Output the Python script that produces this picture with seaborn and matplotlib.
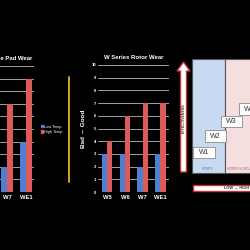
import numpy as np
import pandas as pd
import matplotlib
matplotlib.use("Agg")
import matplotlib.pyplot as plt
import seaborn as sns
from matplotlib.patches import Rectangle, Polygon

sns.set_theme(style="dark")
plt.rcParams['font.family'] = ['Liberation Sans', 'DejaVu Sans']

# ---- data ----
categories = ["W5", "W6", "W7", "WE1"]
temps = ["Low Temp", "High Temp"]
pad_low = [np.nan, np.nan, 2, 4]      # W5/W6 are off-canvas in the reference
pad_high = [np.nan, np.nan, 7, 9]
rotor_low = [3, 3, 2, 3]
rotor_high = [4, 6, 7, 7]
y_ticks = list(range(0, 11))
stages = ["W1", "W2", "W3", "W4"]
zones = ["SPORTS", "SPORTS & CIRCUIT"]

BLUE = "#4e7fd0"
RED = "#dc5a5a"
W, H = 250, 250


def long_df(low, high):
    rows = []
    for c, lo, hi in zip(categories, low, high):
        rows.append((c, temps[0], lo))
        rows.append((c, temps[1], hi))
    return pd.DataFrame(rows, columns=["cat", "temp", "val"])


def px_axes(fig, x0, x1, ytop, ybot):
    return fig.add_axes([x0 / W, (H - ybot) / H, (x1 - x0) / W, (ybot - ytop) / H])


fig = plt.figure(figsize=(2.5, 2.5), dpi=100, facecolor="black")

# overlay axes in pixel coordinates for decorations
ov = fig.add_axes([0, 0, 1, 1])
ov.set_xlim(0, W)
ov.set_ylim(H, 0)
ov.axis("off")
ov.add_patch(Rectangle((0, 0), W, H, color="black", zorder=0))


def style_bar_axes(ax, title, show_yticks):
    ax.set_facecolor("none")
    ax.set_ylim(0, 10)
    ax.set_yticks(y_ticks)
    ax.grid(axis="y", color="#bbbbbb", linewidth=0.6)
    ax.grid(axis="x", visible=False)
    for s in ax.spines.values():
        s.set_visible(False)
    ax.tick_params(axis="both", length=0, colors="white")
    ax.tick_params(axis="y", labelsize=3.0, pad=1.5)
    ax.tick_params(axis="x", labelsize=4.2, pad=2)
    for t in ax.get_xticklabels():
        t.set_fontweight("bold")
    for t in ax.get_yticklabels():
        t.set_fontweight("bold")
    if not show_yticks:
        ax.set_yticklabels([])
    ax.set_xlabel("")
    ax.set_ylabel("")
    ax.set_title(title, color="white", fontsize=4.3, fontweight="bold", pad=4.5)
    ax.set_axisbelow(True)


# left chart: brake pad wear
axL = px_axes(fig, -40.5, 33.6, 66, 192)
sns.barplot(data=long_df(pad_low, pad_high), x="cat", y="val", hue="temp",
            palette=[BLUE, RED], width=0.6, saturation=1, linewidth=0,
            ax=axL, legend=False)
axL.set_xlim(-0.5, 3.4)
style_bar_axes(axL, "W Series Brake Pad Wear", False)

# middle chart: rotor wear
axM = px_axes(fig, 98.2, 168.5, 65, 192)
sns.barplot(data=long_df(rotor_low, rotor_high), x="cat", y="val", hue="temp",
            palette=[BLUE, RED], width=0.6, saturation=1, linewidth=0,
            ax=axM, legend=False)
axM.set_xlim(-0.5, 3.45)
style_bar_axes(axM, "W Series Rotor Wear", True)
axM.set_ylabel("Bad \u2192 Good", color="white", fontsize=4.6, fontweight="bold", labelpad=4)

# legend for left chart
handles = [Rectangle((0, 0), 1, 1, color=BLUE), Rectangle((0, 0), 1, 1, color=RED)]
leg = fig.legend(handles, temps, loc="upper left", bbox_to_anchor=(39 / W, 1 - 123 / H),
                 frameon=False, fontsize=2.8, handlelength=0.6, handleheight=0.6,
                 handletextpad=0.4, labelspacing=0.3, borderaxespad=0)
for t in leg.get_texts():
    t.set_color("white")

# yellow divider
ov.plot([69, 69], [77, 182], color="#d4a520", linewidth=1.4, zorder=2)

# right diagram
ov.add_patch(Rectangle((192, 59), 33, 114, facecolor="#c8daf2", edgecolor="#555555", lw=0.8, zorder=2))
ov.add_patch(Rectangle((225, 59), 30, 114, facecolor="#f6dede", edgecolor="#555555", lw=0.8, zorder=2))
ov.text(208, 169.5, zones[0], fontsize=2, color="#5a6f90", ha="center", va="center", zorder=3)
ov.text(227, 169.5, zones[1], fontsize=2, color="#8a6a6a", ha="left", va="center", zorder=3)

boxes = [(193, 147, 22, 11), (205, 130, 21, 12), (221, 116, 21, 11), (239, 103, 21, 12)]
for name, (bx, by, bw, bh) in zip(stages, boxes):
    ov.add_patch(Rectangle((bx, by), bw, bh, facecolor="white", edgecolor="#8a8a8a", lw=0.6, zorder=4))
    ov.text(bx + bw / 2, by + bh / 2 + 0.3, name, fontsize=5, color="#333333",
            ha="center", va="center", zorder=5)

# vertical arrow
arrow = Polygon([(180.5, 172), (186.5, 172), (186.5, 71), (190, 71), (183.5, 62),
                 (177, 71), (180.5, 71)], closed=True, facecolor="white",
                edgecolor="#c8323a", lw=1.0, zorder=3)
ov.add_patch(arrow)
ov.text(183.5, 118, "EFFECTIVENESS", rotation=90, fontsize=2.6, fontweight="bold",
        color="#333333", ha="center", va="center", zorder=4)

# horizontal bar
ov.add_patch(Rectangle((192.5, 185), 62, 6, facecolor="white", edgecolor="#c8323a", lw=1.0, zorder=3))
ov.text(249, 188.3, "LOW \u2192 HIGH", fontsize=2.9, fontweight="bold", color="#333333",
        ha="right", va="center", zorder=4)

fig.savefig("out.png", dpi=100, facecolor="black")
